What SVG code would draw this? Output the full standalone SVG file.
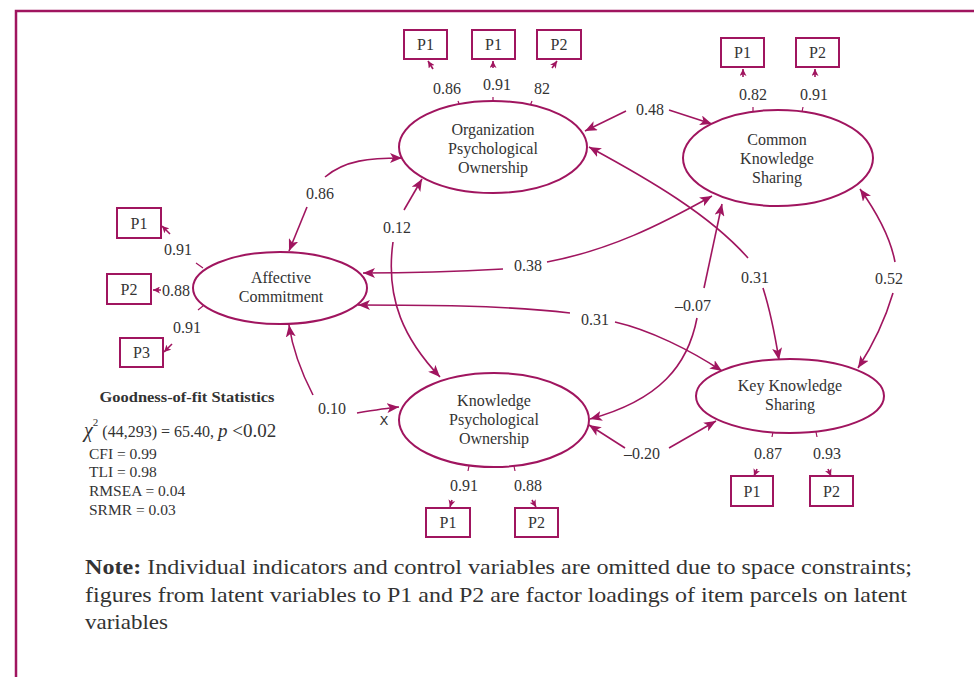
<svg xmlns="http://www.w3.org/2000/svg" width="974" height="677" viewBox="0 0 974 677">
<style>
.b{stroke:#a0155f;stroke-width:2.5;fill:none}
.n{stroke:#a0155f;stroke-width:2;fill:#fff}
.box{stroke:#a0155f;stroke-width:2;fill:#fff}
.c{stroke:#a0155f;stroke-width:1.6;fill:none;marker-end:url(#ah)}
.i{stroke:#a0155f;stroke-width:1.6;fill:none;marker-end:url(#sa)}
.t{stroke:#a0155f;stroke-width:1.2;fill:none}
text{font-family:"Liberation Serif","Times New Roman",serif;fill:#333}
.nt{font-size:16px;text-anchor:middle}
.lb{font-size:16px;text-anchor:middle}
.pt{font-size:16px;text-anchor:middle}
.gf{font-size:15.5px}
.no{font-size:22px}
</style>
<defs>
<marker id="ah" viewBox="0 0 12 10" refX="12" refY="5" markerWidth="12" markerHeight="10" markerUnits="userSpaceOnUse" orient="auto">
<path d="M0,0 L12,5 L0,10 L3,5 z" fill="#a0155f"/>
</marker>
<marker id="sa" viewBox="0 0 8 8" refX="8" refY="4" markerWidth="7" markerHeight="7" markerUnits="userSpaceOnUse" orient="auto">
<path d="M0,0 L8,4 L0,8 L2,4 z" fill="#a0155f"/>
</marker>
</defs>
<rect width="974" height="677" fill="#fff"/>
<path class="b" d="M16,677 L16,11 L974,11"/>

<g id="connectors">
<path class="c" d="M307,207 L289,251"/>
<path class="c" d="M325,177 C345,160 370,158 402,158"/>
<path class="c" d="M404,210 L422,179"/>
<path class="c" d="M393,242 C385,300 405,340 440,377"/>
<path class="c" d="M313,395 C300,370 292,345 289,325"/>
<path class="c" d="M357,413 C375,410 388,408 399,407"/>
<path class="c" d="M503,269 C450,272 400,273 363,273"/>
<path class="c" d="M547,262 C610,250 660,225 712,196"/>
<path class="c" d="M570,313 C500,305 420,305 358,305"/>
<path class="c" d="M615,322 C650,330 690,350 722,371"/>
<path class="c" d="M748,258 C710,215 650,180 589,147"/>
<path class="c" d="M763,288 C770,310 775,335 779,360"/>
<path class="c" d="M697,318 C688,365 660,400 590,419"/>
<path class="c" d="M704,288 L722,204"/>
<path class="c" d="M625,448 L589,425"/>
<path class="c" d="M669,448 L716,421"/>
<path class="c" d="M626,111 L585,131"/>
<path class="c" d="M669,110 L712,124"/>
<path class="c" d="M895,262 C890,235 875,210 860,189"/>
<path class="c" d="M893,293 C885,320 873,345 858,368"/>
<path class="i" d="M433,69 L428,61"/>
<path class="i" d="M493,68 L493,61"/>
<path class="i" d="M552,68 L557,61"/>
<path class="i" d="M743,77 L743,69"/>
<path class="i" d="M815,77 L815,69"/>
<path class="i" d="M170,234 L162,226"/>
<path class="i" d="M161,290 L153,290"/>
<path class="i" d="M172,344 L164,352"/>
<path class="i" d="M452,500 L450,507"/>
<path class="i" d="M532,500 L536,507"/>
<path class="i" d="M757,469 L754,476"/>
<path class="i" d="M828,469 L831,476"/>
<path class="t" d="M458,101 L460,106 M532,101 L530,106 M493,97 L493,101"/>
<path class="t" d="M753,107 L753,112 M803,107 L802,112"/>
<path class="t" d="M196,263 L203,268 M193,288 L198,288 M198,310 L203,306"/>
<path class="t" d="M469,466 L468,471 M514,466 L515,471"/>
<path class="t" d="M773,432 L772,437 M816,432 L817,437"/>
</g>

<g id="labels">
<text class="lb" x="447" y="94">0.86</text>
<text class="lb" x="497" y="90">0.91</text>
<text class="lb" x="542" y="94">82</text>
<text class="lb" x="753" y="100">0.82</text>
<text class="lb" x="814" y="100">0.91</text>
<text class="lb" x="178" y="255">0.91</text>
<text class="lb" x="176" y="296">0.88</text>
<text class="lb" x="187" y="333">0.91</text>
<text class="lb" x="464" y="491">0.91</text>
<text class="lb" x="528" y="491">0.88</text>
<text class="lb" x="768" y="459">0.87</text>
<text class="lb" x="827" y="459">0.93</text>
<text class="lb" x="320" y="199">0.86</text>
<text class="lb" x="397" y="233">0.12</text>
<text class="lb" x="332" y="414">0.10</text>
<text class="lb" x="528" y="271">0.38</text>
<text class="lb" x="595" y="325">0.31</text>
<text class="lb" x="755" y="283">0.31</text>
<text class="lb" x="693" y="311">–0.07</text>
<text class="lb" x="642" y="459">–0.20</text>
<text class="lb" x="650" y="115">0.48</text>
<text class="lb" x="889" y="284">0.52</text>
<text x="384" y="425" style="font-family:'DejaVu Sans','Liberation Sans',sans-serif;font-size:13px;text-anchor:middle">X</text>
</g>

<g id="opo">
<ellipse class="n" cx="493" cy="147" rx="94" ry="46"/>
<text class="nt" x="493" y="135">Organization</text>
<text class="nt" x="493" y="154">Psychological</text>
<text class="nt" x="493" y="173">Ownership</text>
</g>
<g id="cks">
<ellipse class="n" cx="778" cy="158" rx="95" ry="48"/>
<text class="nt" x="777" y="145">Common</text>
<text class="nt" x="777" y="164">Knowledge</text>
<text class="nt" x="777" y="183">Sharing</text>
</g>
<g id="ac">
<ellipse class="n" cx="280" cy="288" rx="87" ry="36"/>
<text class="nt" x="281" y="283">Affective</text>
<text class="nt" x="281" y="302">Commitment</text>
</g>
<g id="kpo">
<ellipse class="n" cx="494" cy="420" rx="95" ry="47"/>
<text class="nt" x="494" y="406">Knowledge</text>
<text class="nt" x="494" y="425">Psychological</text>
<text class="nt" x="494" y="444">Ownership</text>
</g>
<g id="kks">
<ellipse class="n" cx="790" cy="396" rx="94" ry="37"/>
<text class="nt" x="790" y="391">Key Knowledge</text>
<text class="nt" x="790" y="410">Sharing</text>
</g>

<g id="opo-p1a"><rect class="box" x="404" y="30" width="43" height="29"/><text class="pt" x="425.5" y="50">P1</text></g>
<g id="opo-p1b"><rect class="box" x="472" y="30" width="43" height="29"/><text class="pt" x="493.5" y="50">P1</text></g>
<g id="opo-p2"><rect class="box" x="537" y="30" width="44" height="29"/><text class="pt" x="559" y="50">P2</text></g>
<g id="cks-p1"><rect class="box" x="721" y="38" width="43" height="29"/><text class="pt" x="742.5" y="58">P1</text></g>
<g id="cks-p2"><rect class="box" x="796" y="38" width="43" height="29"/><text class="pt" x="817.5" y="58">P2</text></g>
<g id="ac-p1"><rect class="box" x="117" y="208" width="44" height="30"/><text class="pt" x="139" y="229">P1</text></g>
<g id="ac-p2"><rect class="box" x="107" y="274" width="44" height="30"/><text class="pt" x="129" y="295">P2</text></g>
<g id="ac-p3"><rect class="box" x="120" y="338" width="43" height="29"/><text class="pt" x="141.5" y="358">P3</text></g>
<g id="kpo-p1"><rect class="box" x="426" y="508" width="44" height="29"/><text class="pt" x="448" y="528">P1</text></g>
<g id="kpo-p2"><rect class="box" x="515" y="508" width="43" height="29"/><text class="pt" x="536.5" y="528">P2</text></g>
<g id="kks-p1"><rect class="box" x="731" y="476" width="42" height="30"/><text class="pt" x="752" y="497">P1</text></g>
<g id="kks-p2"><rect class="box" x="810" y="476" width="43" height="30"/><text class="pt" x="831.5" y="497">P2</text></g>

<g id="fit">
<text x="187" y="402" style="font-size:14.5px;font-weight:bold;text-anchor:middle" textLength="175" lengthAdjust="spacingAndGlyphs">Goodness-of-fit Statistics</text>
<text x="84" y="437" style="font-size:20px"><tspan font-style="italic">χ</tspan><tspan dy="-11" font-size="11px">2</tspan><tspan dy="11" font-size="16px"> (44,293) = 65.40, </tspan><tspan font-style="italic" font-size="19px">p</tspan><tspan font-size="19px"> &lt;0.02</tspan></text>
<text class="gf" x="89" y="459">CFI = 0.99</text>
<text class="gf" x="89" y="477">TLI = 0.98</text>
<text class="gf" x="89" y="496">RMSEA = 0.04</text>
<text class="gf" x="89" y="515">SRMR = 0.03</text>
</g>

<g id="note">
<text class="no" x="85" y="574" textLength="827" lengthAdjust="spacingAndGlyphs"><tspan font-weight="bold">Note:</tspan> Individual indicators and control variables are omitted due to space constraints;</text>
<text class="no" x="85" y="602" textLength="822" lengthAdjust="spacingAndGlyphs">figures from latent variables to P1 and P2 are factor loadings of item parcels on latent</text>
<text class="no" x="85" y="629" textLength="83" lengthAdjust="spacingAndGlyphs">variables</text>
</g>
</svg>
